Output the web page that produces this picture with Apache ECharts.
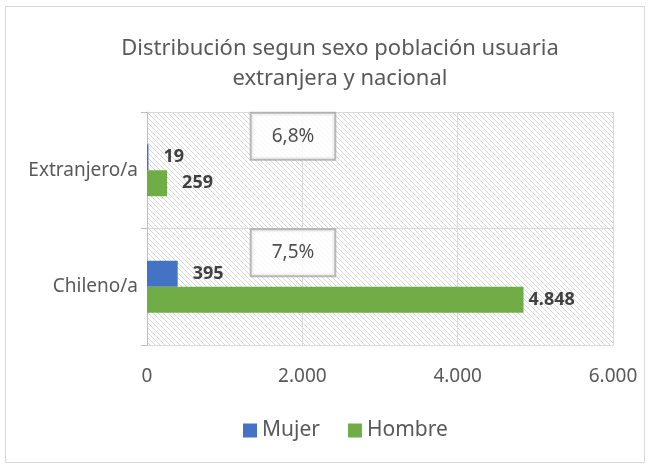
<!DOCTYPE html>
<html>
<head>
<meta charset="utf-8">
<script src="https://cdn.jsdelivr.net/npm/echarts@6/dist/echarts.min.js"></script>
<style>
  html, body { margin: 0; padding: 0; background: #fff; }
  .frame {
    position: absolute; left: 5px; top: 6px; width: 638px; height: 455px;
    border: 1px solid #d9d9d9;
  }
  #chart { position: absolute; left: 0; top: 0; width: 650px; height: 468px; }
</style>
</head>
<body>
<div class="frame"></div>
<div id="chart"></div>
<script>
// categorias (de abajo hacia arriba)
const categorias = ['Chileno/a', 'Extranjero/a'];
const mujer = [395, 19];
const hombre = [4848, 259];
const porcentajes = ['7,5%', '6,8%'];
const ticksX = [0, 2000, 4000, 6000];

const fmtMiles = v => String(v).replace(/\B(?=(\d{3})+(?!\d))/g, '.');

// fondo rayado del area de grafico (diagonal de pixeles)
const pat = document.createElement('canvas');
pat.width = 5; pat.height = 5;
const ctx = pat.getContext('2d');
ctx.fillStyle = '#ffffff';
ctx.fillRect(0, 0, 5, 5);
ctx.fillStyle = '#d6d6d6';
for (let i = 0; i < 5; i++) {
  ctx.fillRect(i, i, 1, 1);
}

const myChart = echarts.init(document.getElementById('chart'));

const etiqueta = {
  show: true,
  position: 'right',
  distance: 15,
  fontFamily: 'Noto Sans',
  fontWeight: 'bold',
  fontSize: 18,
  color: '#404040',
  formatter: p => fmtMiles(p.value)
};

const option = {
  animation: false,
  title: {
    text: 'Distribución segun sexo población usuaria\nextranjera y nacional',
    left: 335,
    textAlign: 'center',
    top: 29,
    textStyle: {
      fontFamily: 'Noto Sans',
      fontWeight: 'normal',
      fontSize: 22,
      lineHeight: 30,
      color: '#595959'
    }
  },
  legend: {
    data: ['Mujer', 'Hombre'],
    bottom: 22,
    left: 238,
    itemWidth: 14,
    itemHeight: 14,
    itemGap: 28,
    icon: 'rect',
    textStyle: { fontFamily: 'Noto Sans', fontSize: 21, color: '#595959' }
  },
  grid: {
    left: 147,
    right: 37,
    top: 112,
    bottom: 123,
    show: true,
    borderWidth: 0,
    backgroundColor: { image: pat, repeat: 'repeat' }
  },
  xAxis: {
    type: 'value',
    min: ticksX[0],
    max: ticksX[ticksX.length - 1],
    interval: 2000,
    axisLine: { show: false },
    axisTick: { show: false },
    splitLine: { lineStyle: { color: '#d9d9d9', width: 1 } },
    axisLabel: {
      margin: 22,
      fontFamily: 'Noto Sans',
      fontSize: 19,
      color: '#595959',
      formatter: v => fmtMiles(v)
    }
  },
  yAxis: {
    type: 'category',
    data: categorias,
    axisLine: { show: true, lineStyle: { color: '#bfbfbf' } },
    axisTick: { show: true, length: 6, lineStyle: { color: '#bfbfbf' } },
    splitLine: { show: true, lineStyle: { color: '#d9d9d9', width: 1 } },
    axisLabel: {
      margin: 9,
      fontFamily: 'Noto Sans',
      fontSize: 19,
      color: '#595959'
    }
  },
  series: [
    {
      name: 'Mujer',
      type: 'bar',
      data: mujer,
      barWidth: 26,
      barGap: '0%',
      itemStyle: { color: '#4472c4' },
      label: etiqueta
    },
    {
      name: 'Hombre',
      type: 'bar',
      // la etiqueta del valor grande va mas pegada a la barra
      data: hombre.map(v => v > 4000 ? { value: v, label: { distance: 5 } } : v),
      barWidth: 26,
      barGap: '0%',
      itemStyle: { color: '#70ad47' },
      label: etiqueta
    },
    {
      name: 'porcentaje',
      type: 'scatter',
      symbolSize: 0,
      silent: true,
      data: categorias.map((c, i) => [1880, c, porcentajes[i]]),
      z: 10,
      label: {
        show: true,
        position: 'inside',
        offset: [0, -34],
        formatter: p => p.value[2],
        backgroundColor: '#ffffff',
        borderColor: '#a6a6a6',
        borderWidth: 2,
        padding: [12, 20, 12, 20],
        lineHeight: 21,
        fontFamily: 'Noto Sans',
        fontSize: 19,
        color: '#1f1f1f'
      }
    }
  ]
};

myChart.setOption(option, true);

window.addEventListener('resize', () => {
  myChart.resize();
});
</script>
</body>
</html>
